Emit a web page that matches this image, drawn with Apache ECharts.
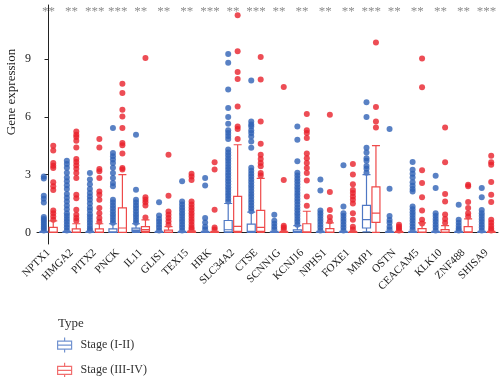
<!DOCTYPE html>
<html>
<head>
<meta charset="utf-8">
<script src="https://cdn.jsdelivr.net/npm/echarts@6/dist/echarts.min.js"></script>
<style>html,body{margin:0;padding:0;background:#fff}#c{width:500px;height:377px}</style>
</head>
<body>
<div id="c"></div>
<script>
const genes = ['NPTX1','HMGA2','PITX2','PNCK','IL11','GLIS1','TEX15','HRK','SLC34A2','CTSE','SCNN1G','KCNJ16','NPHS1','FOXE1','MMP1','OSTN','CEACAM5','KLK10','ZNF488','SHISA9'];
const stars = ['**','**','***','***','**','**','**','***','**','***','**','**','**','**','***','**','**','**','**','***'];
const yTicks = [0, 3, 6, 9];
const seriesNames = ['Stage (I-II)', 'Stage (III-IV)'];

// box stats: [min, Q1, median, Q3, max]
const boxEarly = [
  [0,0,0,0.02,0.05],[0,0,0,0.02,0.05],[0,0,0,0.02,0.05],[0,0,0.03,0.18,0.45],[0,0.06,0.12,0.22,0.45],
  [0,0,0,0.02,0.05],[0,0,0,0.02,0.05],[0,0,0,0.02,0.05],[0,0.03,0.14,0.62,1.5],[0,0.01,0.05,0.43,1.05],
  [0,0,0,0.02,0.05],[0,0,0.05,0.14,0.35],[0,0,0,0.02,0.05],[0,0,0,0.02,0.05],[0.03,0.23,0.66,1.4,3.0],
  [0,0,0,0.02,0.05],[0,0,0,0.02,0.05],[0,0,0,0.02,0.05],[0,0,0,0.02,0.05],[0,0,0,0.02,0.05]
];
const boxLate = [
  [0,0,0.02,0.26,0.6],[0,0,0.02,0.18,0.45],[0,0,0.02,0.18,0.45],[0,0,0.23,1.27,3.0],[0,0.05,0.15,0.3,0.65],
  [0,0,0.02,0.12,0.3],[0,0,0,0.03,0.08],[0,0,0,0.02,0.05],[0,0.05,0.31,1.87,4.55],[0,0.05,0.26,1.14,2.8],
  [0,0,0,0.02,0.05],[0,0,0.03,0.45,1.1],[0,0,0.02,0.2,0.5],[0,0,0,0.02,0.05],[0,0.52,1.0,2.36,4.5],
  [0,0,0,0.02,0.05],[0,0,0.02,0.2,0.5],[0,0,0.02,0.15,0.35],[0,0,0.03,0.3,0.7],[0,0,0,0.02,0.05]
];
// outliers per gene
const outEarly = [
  [2.9,2.8,1.9,1.75,1.55,0.8,0.7,0.6,0.5,0.4,0.3,0.2,0.1],
  [3.72,3.55,3.35,3.1,2.85,2.65,2.45,2.25,2.0,1.8,1.6,1.4,1.2,1.0,0.85,0.7,0.55,0.4,0.25,0.1],
  [3.08,2.74,2.5,2.25,2.05,1.87,1.7,1.5,1.3,1.14,0.95,0.8,0.65,0.5,0.35,0.2,0.1],
  [5.42,4.12,3.95,3.78,3.6,3.35,3.08,2.82,2.57,2.4,1.7,1.55,1.4,1.25,1.1,0.95,0.8,0.65,0.5],
  [5.07,2.22,1.7,1.55,1.4,1.25,1.1,0.95,0.8,0.65,0.5],
  [1.56,0.88,0.7,0.55,0.4,0.25,0.1],
  [2.65,1.6,1.45,1.3,1.15,1.0,0.85,0.7,0.55,0.4,0.25,0.1],
  [2.82,2.44,0.75,0.52,0.3,0.15],
  [9.26,8.8,7.41,6.46,5.99,5.64,5.3,5.16,5.0,4.85,4.3,4.15,4.0,3.85,3.7,3.55,3.4,3.25,3.1,2.95,2.8,2.65,2.5,2.35,2.2,2.05,1.9,1.75,1.6],
  [7.88,5.76,5.6,5.5,5.3,5.16,4.98,4.72,4.4,3.36,3.2,3.05,2.9,2.75,2.6,2.45,2.3,2.15,2.0,1.85,1.7,1.55,1.4,1.25,1.1],
  [0.92,0.6,0.45,0.3,0.15],
  [5.5,4.81,3.69,3.1,2.95,2.8,2.65,2.5,2.35,2.2,2.05,1.9,1.75,1.6,1.45,1.3,1.15,1.0,0.85,0.7,0.55,0.4],
  [2.74,2.18,1.14,1.0,0.85,0.7,0.55,0.4,0.25,0.1],
  [3.48,1.35,1.0,0.85,0.7,0.55,0.4,0.25,0.1],
  [6.75,5.99,4.4,4.15,3.85,3.72,3.45,3.3,3.1],
  [5.37,2.27,0.85,0.65,0.5,0.3,0.15],
  [3.65,3.25,3.05,2.85,2.6,2.42,2.25,2.12,1.35,1.2,1.05,0.9,0.75,0.6,0.45,0.3,0.15],
  [2.94,2.3,1.0,0.85,0.7,0.55,0.4,0.25,0.1],
  [1.44,0.66,0.5,0.35,0.2,0.1],
  [2.3,1.82,1.17,1.0,0.85,0.7,0.55,0.4,0.25,0.1]
];
const outLate = [
  [4.5,4.25,3.6,3.46,3.34,2.6,2.4,2.2,1.14,1.0,0.83,0.66],
  [5.24,5.07,4.95,4.76,4.41,3.81,3.65,3.48,3.3,3.08,2.82,1.96,1.78,1.18,0.92,0.75,0.6],
  [4.85,4.41,3.29,3.17,2.82,2.13,1.96,1.7,1.27,1.0,0.75,0.55],
  [7.72,7.24,6.37,6.02,5.42,4.64,4.52,4.09,3.34,3.26],
  [9.05,1.83,1.7,1.57,1.4,0.78],
  [4.03,1.9,1.08,0.92,0.75,0.58,0.4],
  [3.05,2.9,2.72,1.6,1.45,1.3,1.15,1.0,0.85,0.7,0.55,0.4,0.25,0.15],
  [3.64,3.26,1.18,0.25,0.15],
  [11.27,9.4,8.33,7.96,6.54,5.5,5.37,4.85],
  [9.1,7.93,5.76,4.6,4.03,3.81,3.6,3.43,3.08,2.96],
  [7.55,2.72,0.35,0.25,0.15],
  [6.15,5.3,5.16,4.9,4.1,3.85,3.6,3.34,3.08,2.7,1.87,1.39],
  [6.11,2.1,1.17,0.8,0.58],
  [3.55,3.0,2.5,2.2,2.05,1.87,1.7,1.5,1.0,0.66,0.3,0.15],
  [9.86,6.51,5.76,5.45],
  [0.4,0.3,0.2,0.1],
  [9.02,7.53,3.22,2.56,1.82,1.14,0.66,0.47],
  [5.45,3.64,2.0,1.6,0.93,0.7,0.5],
  [2.48,2.4,1.58,1.27,1.0,0.83],
  [3.98,3.64,3.51,2.62,1.95,1.58,0.66,0.5,0.35,0.2,0.1]
];

const BLUE = '#2F62B5', BLUE_BOX = '#4F78C4';
const RED = '#E8202A', RED_BOX = '#EE4A4A';
const FONT = '"Liberation Serif", "DejaVu Serif", serif';

const chart = echarts.init(document.getElementById('c'), null, {renderer: 'canvas'});

// side-by-side offset (in category units) matching ECharts boxplot layout for 2 series
const GRID_LEFT = 37, GRID_RIGHT = 2;
const band = (500 - GRID_LEFT - GRID_RIGHT) / genes.length;
const avail = band * 0.8 - 2;
const gap = avail / 2 * 0.3;
const bw = (avail - gap) / 2;
const off = (avail / 2 - bw / 2) / band;

function pts(list, shift) {
  const r = [];
  list.forEach((vals, i) => vals.forEach(v => r.push([i + shift, v])));
  return r;
}

const legendIcon = 'path://M7,0L7,3.5M0,3.5L14,3.5L14,11.5L0,11.5ZM0,7.5L14,7.5M7,11.5L7,15';

chart.setOption({
  animation: false,
  backgroundColor: '#fff',
  title: {
    text: 'Type', left: 53, top: 312,
    textStyle: {fontFamily: FONT, fontSize: 13, fontWeight: 'normal', color: '#333'}
  },
  legend: {
    orient: 'vertical', left: 57, top: 337, height: 80, padding: 0,
    itemWidth: 22, itemHeight: 15, itemGap: 9,
    textStyle: {fontFamily: FONT, fontSize: 12, color: '#333'},
    data: [
      {name: seriesNames[0], icon: legendIcon,
       itemStyle: {color: '#fff', borderColor: BLUE_BOX, borderWidth: 1.2}},
      {name: seriesNames[1], icon: legendIcon,
       itemStyle: {color: '#fff', borderColor: RED_BOX, borderWidth: 1.2}}
    ]
  },
  grid: {left: GRID_LEFT, right: GRID_RIGHT, top: 5, bottom: 133, containLabel: false},
  graphic: [{
    type: 'text', x: 12, y: 92, rotation: Math.PI / 2,
    style: {text: 'Gene expression', fontFamily: FONT, fontSize: 13, fill: '#222', align: 'center', verticalAlign: 'middle'}
  }],
  xAxis: [
    {
      type: 'category', data: genes, position: 'bottom',
      axisLine: {lineStyle: {color: '#222', width: 1}},
      axisTick: {alignWithLabel: true, length: 4, lineStyle: {color: '#222'}},
      axisLabel: {rotate: 45, fontFamily: FONT, fontSize: 11, color: '#222', margin: 7, interval: 0},
      splitLine: {show: false}
    },
    {
      type: 'value', min: -0.5, max: genes.length - 0.5, show: false
    },
    {
      type: 'category', data: stars, position: 'top',
      axisLine: {show: false}, axisTick: {show: false},
      axisLabel: {inside: true, margin: 0, interval: 0, color: '#8C8C8C', fontSize: 13, fontFamily: FONT}
    }
  ],
  yAxis: {
    type: 'value', min: -0.6, max: 11.8,
    axisLine: {show: true, lineStyle: {color: '#222', width: 1}},
    axisTick: {show: true, length: 4, lineStyle: {color: '#222'}, customValues: yTicks},
    axisLabel: {fontFamily: FONT, fontSize: 12, color: '#222', margin: 6, customValues: yTicks},
    splitLine: {show: false}
  },
  series: [
    {
      name: seriesNames[0], type: 'scatter', xAxisIndex: 1, data: pts(outEarly, -off),
      symbolSize: 6, itemStyle: {color: BLUE}, z: 2, silent: true
    },
    {
      name: seriesNames[1], type: 'scatter', xAxisIndex: 1, data: pts(outLate, off),
      symbolSize: 6, itemStyle: {color: RED}, z: 2, silent: true
    },
    {
      name: seriesNames[0], type: 'boxplot', xAxisIndex: 0, data: boxEarly, boxWidth: [8, 8],
      itemStyle: {color: '#fff', borderColor: BLUE_BOX, borderWidth: 1.2}, z: 3
    },
    {
      name: seriesNames[1], type: 'boxplot', xAxisIndex: 0, data: boxLate, boxWidth: [8, 8],
      itemStyle: {color: '#fff', borderColor: RED_BOX, borderWidth: 1.2}, z: 3
    }
  ]
});
</script>
</body>
</html>
